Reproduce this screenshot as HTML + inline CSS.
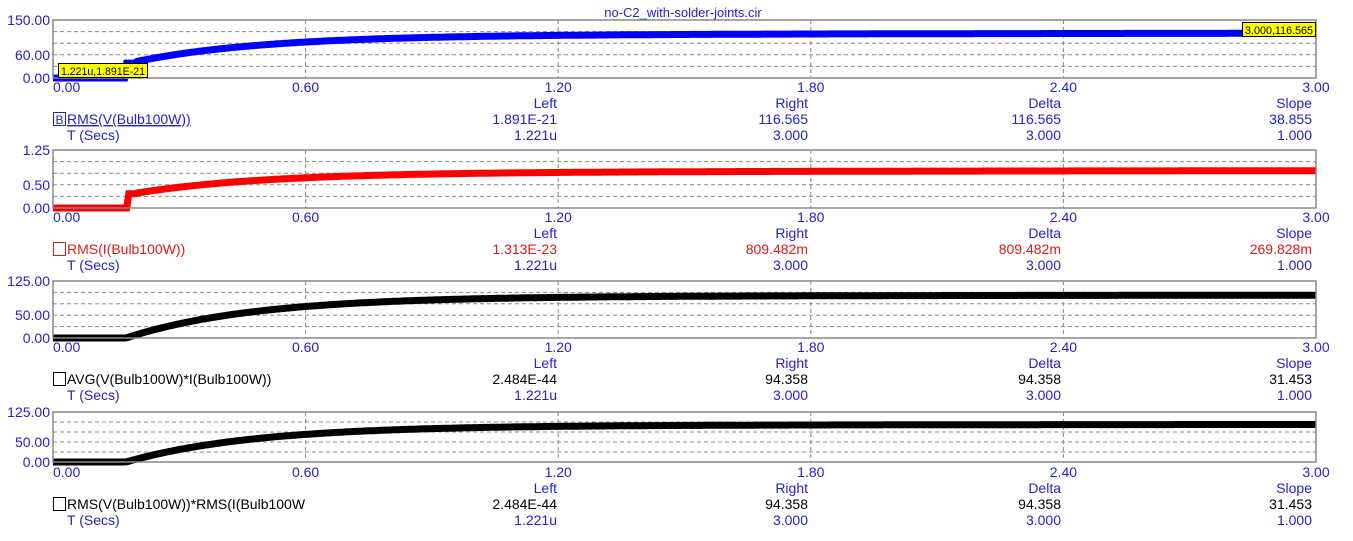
<!DOCTYPE html>
<html><head><meta charset="utf-8"><style>
html,body{margin:0;padding:0;background:#fff;}
svg{display:block;font-family:"Liberation Sans",Arial,sans-serif;font-size:14px;}
</style></head><body>
<svg id="s" width="1353" height="541" xmlns="http://www.w3.org/2000/svg"></svg>
<script>
var s=document.getElementById('s');
var X0=53,X1=1316,W=X1-X0;
var h='';
var BL='#2323c8';
h+='<text x="683" y="17" text-anchor="middle" fill="'+BL+'" font-size="13">no-C2_with-solder-joints.cir</text>';
function xt(t){return X0+t/3*W;}
var plots=[
 {top:20,bot:78,ylab:[['150.00',20],['60.00',55],['0.00',78]],col:'#0000ff',fin:116.565/150,kind:'v',
  name:'RMS(V(Bulb100W))',ncol:BL,vals:['1.891E-21','116.565','116.565','38.855'],vcol:BL,ax:87,box:'B'},
 {top:150,bot:208,ylab:[['1.25',150],['0.50',185],['0.00',208]],col:'#ff0000',fin:0.809/1.25,kind:'i',
  name:'RMS(I(Bulb100W))',ncol:'#e01818',vals:['1.313E-23','809.482m','809.482m','269.828m'],vcol:'#e01818',ax:217},
 {top:281,bot:338,ylab:[['125.00',281],['50.00',315],['0.00',338]],col:'#000',fin:94.358/125,kind:'p',
  name:'AVG(V(Bulb100W)*I(Bulb100W))',ncol:'#000',vals:['2.484E-44','94.358','94.358','31.453'],vcol:'#000',ax:347},
 {top:412,bot:462,ylab:[['125.00',412],['50.00',442],['0.00',462]],col:'#000',fin:94.358/125,kind:'p',
  name:'RMS(V(Bulb100W))*RMS(I(Bulb100W',ncol:'#000',vals:['2.484E-44','94.358','94.358','31.453'],vcol:'#000',ax:472}
];
var ticks=['0.00','0.60','1.20','1.80','2.40','3.00'];
var cols=[557,808,1061,1312],hd=['Left','Right','Delta','Slope'];
plots.forEach(function(p){
 var H=p.bot-p.top;
 for(var i=1;i<5;i++){var y=p.top+H*i/5;h+='<line x1="'+X0+'" x2="'+X1+'" y1="'+y+'" y2="'+y+'" stroke="#888" stroke-dasharray="4,3" stroke-width="1"/>';}
 for(var i=1;i<5;i++){var x=X0+W*i/5;h+='<line x1="'+x+'" x2="'+x+'" y1="'+p.top+'" y2="'+p.bot+'" stroke="#888" stroke-dasharray="4,3" stroke-width="1"/>';}
 var pts=[];
 for(var t=0;t<=3.0001;t+=0.005){
  var f;
  if(p.kind=='v'){f=t<0.175?0:(t<0.2?0.33:1-0.55*Math.exp(-(t-0.2)/0.3)-0.08*Math.exp(-(t-0.2)/1.2));}
  else if(p.kind=='i'){f=t<0.18?0:(t<0.2?0.38:1-0.52*Math.exp(-(t-0.2)/0.3)-0.08*Math.exp(-(t-0.2)/1.2));}
  else{f=t<0.17?0:1-Math.exp(-(t-0.17)/0.3)*0.95-0.06*Math.exp(-(t-0.17)/1.2);f=Math.max(0,Math.min(f,1));}
  var y=p.bot-f*p.fin*H;pts.push(xt(t).toFixed(1)+','+y.toFixed(1));
 }
 h+='<polyline points="'+pts.join(' ')+'" fill="none" stroke="'+p.col+'" stroke-width="7" stroke-linejoin="miter"/>';
 h+='<rect x="'+X0+'" y="'+p.top+'" width="'+W+'" height="'+H+'" fill="none" stroke="#888" stroke-width="1.5"/>';
 p.ylab.forEach(function(l){h+='<text x="50" y="'+(l[1]+5)+'" text-anchor="end" fill="'+BL+'">'+l[0]+'</text>';});
 ticks.forEach(function(tk,i){var x=X0+W*i/5;
  if(i==0)h+='<text x="'+X0+'" y="'+(p.ax+5)+'" fill="'+BL+'">'+tk+'</text>';
  else h+='<text x="'+x+'" y="'+(p.ax+5)+'" text-anchor="middle" fill="'+BL+'">'+tk+'</text>';});
 var r1=p.ax+16,r2=r1+16,r3=r2+16;
 cols.forEach(function(c,i){
  h+='<text x="'+c+'" y="'+(r1+5)+'" text-anchor="end" fill="'+BL+'">'+hd[i]+'</text>';
  h+='<text x="'+c+'" y="'+(r2+5)+'" text-anchor="end" fill="'+p.vcol+'">'+p.vals[i]+'</text>';
  h+='<text x="'+c+'" y="'+(r3+5)+'" text-anchor="end" fill="'+BL+'">'+(i==0?'1.221u':(i==3?'1.000':'3.000'))+'</text>';
 });
 h+='<rect x="53.5" y="'+(r2-6.5)+'" width="12" height="13" fill="none" stroke="'+p.ncol+'" stroke-width="1"/>';
 if(p.box)h+='<text x="59.5" y="'+(r2+5)+'" text-anchor="middle" fill="'+BL+'" font-size="12">B</text>';
 h+='<text x="67" y="'+(r2+5)+'" fill="'+p.ncol+'"'+(p.box?' text-decoration="underline"':'')+'>'+p.name+'</text>';
 h+='<text x="67" y="'+(r3+5)+'" fill="'+BL+'">T (Secs)</text>';
});
h+='<rect x="58.5" y="63.5" width="89" height="14" fill="#ffff00" stroke="#000"/><text x="61" y="75" font-size="11" textLength="84" lengthAdjust="spacingAndGlyphs" fill="#000">1.221u,1.891E-21</text>';
h+='<rect x="1242.5" y="22.5" width="73" height="14" fill="#ffff00" stroke="#000"/><text x="1245" y="34" font-size="11" textLength="68" lengthAdjust="spacingAndGlyphs" fill="#000">3.000,116.565</text>';
s.innerHTML=h;
</script>
</body></html>
